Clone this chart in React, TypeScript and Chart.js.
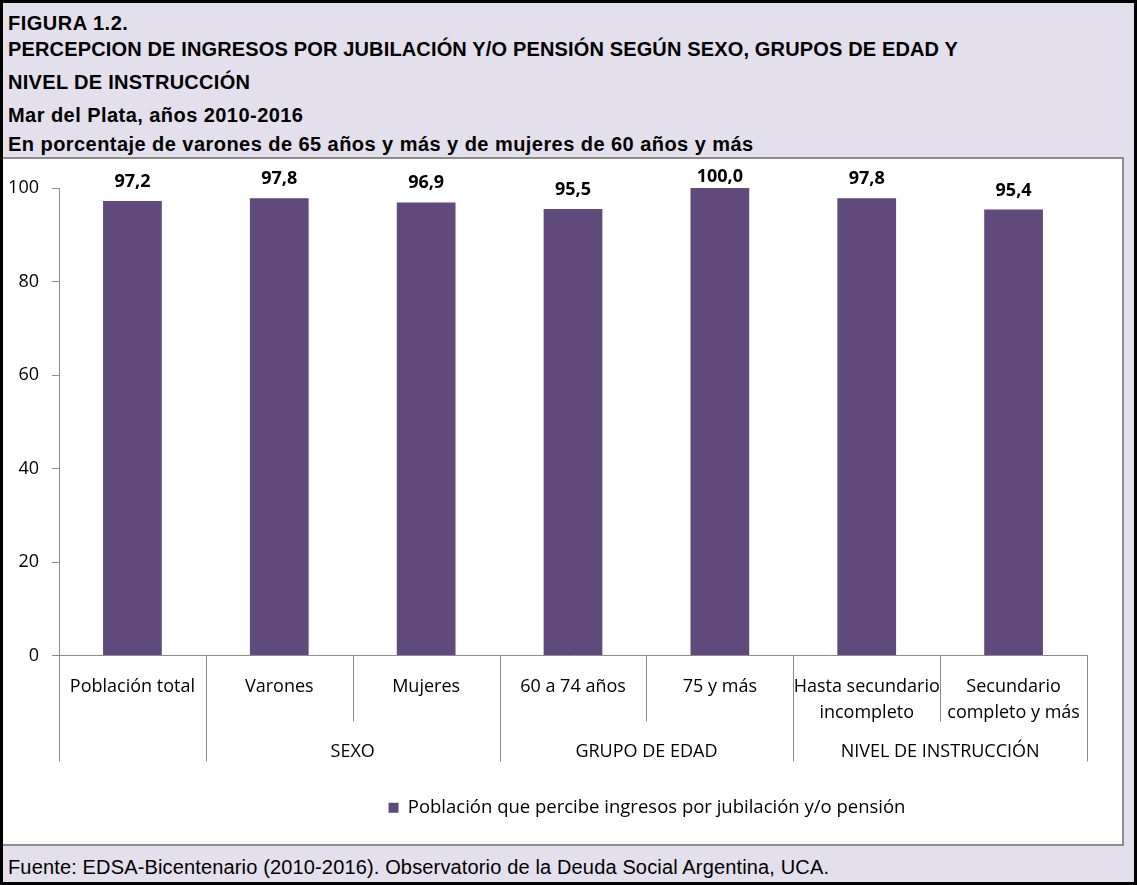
import React, { useEffect, useRef } from "react";
import { Chart, registerables } from "chart.js";

Chart.register(...registerables);

const categories: (string | string[])[] = [
  "Población total",
  "Varones",
  "Mujeres",
  "60 a 74 años",
  "75 y más",
  ["Hasta secundario", "incompleto"],
  ["Secundario", "completo y más"],
];
const values = [97.2, 97.8, 96.9, 95.5, 100.0, 97.8, 95.4];
const groupLabels = ["", "SEXO", "GRUPO DE EDAD", "NIVEL DE INSTRUCCIÓN"];
const groupSpans = [1, 2, 2, 2];
const yTickValues = [0, 20, 40, 60, 80, 100];
const seriesLabel = "Población que percibe ingresos por jubilación y/o pensión";
const titleLines = [
  "FIGURA 1.2.",
  "PERCEPCION DE INGRESOS POR JUBILACIÓN Y/O PENSIÓN SEGÚN SEXO, GRUPOS DE EDAD Y",
  "NIVEL DE INSTRUCCIÓN",
  "Mar del Plata, años 2010-2016",
  "En porcentaje de varones de 65 años y más y de mujeres de 60 años y más",
];
const sourceNote =
  "Fuente: EDSA-Bicentenario (2010-2016). Observatorio de la Deuda Social Argentina, UCA.";

// layout / style constants
const TITLE_TOPS = [13, 39, 72, 105, 134];
const TITLE_SPACING = ["0.5px", "0.15px", "0.3px", "0.45px", "0.45px"];
const BAR_COLOR = "#604A7B";
const AXIS_COLOR = "#8C8C8C";
const CAL = "'Open Sans', sans-serif";
const LEGEND_SHIFT = 102;

const groupPlugin = {
  id: "groupPlugin",
  afterLayout(chart: any) {
    if (chart.legend) {
      chart.legend.left += LEGEND_SHIFT;
      chart.legend.right += LEGEND_SHIFT;
    }
  },
  afterDraw(chart: any) {
    const xs = chart.scales.x;
    const ctx = chart.ctx;
    const n = categories.length;
    const half = (xs.getPixelForValue(1) - xs.getPixelForValue(0)) / 2;
    const groupStarts: number[] = [];
    let acc = 0;
    for (const s of groupSpans) {
      groupStarts.push(acc);
      acc += s;
    }
    const isGroupBoundary = (i: number) => i === n || groupStarts.includes(i);
    ctx.save();
    ctx.strokeStyle = AXIS_COLOR;
    ctx.lineWidth = 1;
    for (let i = 0; i <= n; i++) {
      const bx =
        i < n ? xs.getPixelForValue(i) - half : xs.getPixelForValue(n - 1) + half;
      const len = isGroupBoundary(i) ? 106 : 66;
      const px = Math.round(bx) + 0.5;
      ctx.beginPath();
      ctx.moveTo(px, xs.top);
      ctx.lineTo(px, xs.top + len);
      ctx.stroke();
    }
    ctx.fillStyle = "#000";
    ctx.font = `18px ${CAL}`;
    ctx.textAlign = "center";
    ctx.textBaseline = "middle";
    groupLabels.forEach((lab, g) => {
      if (!lab) return;
      const s = groupStarts[g];
      const e = s + groupSpans[g] - 1;
      const cx = (xs.getPixelForValue(s) + xs.getPixelForValue(e)) / 2;
      ctx.fillText(lab, cx, xs.top + 96);
    });
    ctx.restore();
  },
};

const labelPlugin = {
  id: "labelPlugin",
  afterDatasetsDraw(chart: any) {
    const ctx = chart.ctx;
    const meta = chart.getDatasetMeta(0);
    ctx.save();
    ctx.fillStyle = "#000";
    ctx.font = `bold 18px ${CAL}`;
    ctx.textAlign = "center";
    ctx.textBaseline = "alphabetic";
    meta.data.forEach((bar: any, i: number) => {
      const y = Math.max(bar.y - 14, chart.chartArea.top - 6);
      ctx.fillText(values[i].toFixed(1).replace(".", ","), bar.x, y);
    });
    ctx.restore();
  },
};

export default function App() {
  const ref = useRef<HTMLCanvasElement>(null);
  useEffect(() => {
    if (!ref.current) return;
    const chart = new Chart(ref.current, {
      type: "bar",
      data: {
        labels: categories as any,
        datasets: [
          {
            label: seriesLabel,
            data: values,
            backgroundColor: BAR_COLOR,
            borderWidth: 0,
            barPercentage: 0.4,
            categoryPercentage: 1,
          },
        ],
      },
      options: {
        animation: false,
        responsive: false,
        devicePixelRatio: 1,
        layout: { padding: { top: 29, left: 0, right: 34, bottom: 17 } },
        plugins: {
          tooltip: { enabled: false },
          legend: {
            display: true,
            position: "bottom",
            labels: {
              boxWidth: 10,
              boxHeight: 10,
              color: "#000",
              padding: 10,
              font: { family: "'Open Sans', sans-serif", size: 18.5 },
            },
          },
        },
        scales: {
          x: {
            grid: { display: false, drawTicks: false },
            border: { display: true, color: AXIS_COLOR, width: 1 },
            ticks: {
              color: "#000",
              padding: 18,
              maxRotation: 0,
              autoSkip: false,
              font: { family: "'Open Sans', sans-serif", size: 18, lineHeight: 1.45 },
            },
            afterFit(scale: any) {
              scale.height = 133;
            },
          },
          y: {
            min: 0,
            max: 100,
            afterBuildTicks(scale: any) {
              scale.ticks = yTickValues.map((v) => ({ value: v }));
            },
            grid: {
              drawOnChartArea: false,
              drawTicks: true,
              tickLength: 7,
              color: AXIS_COLOR,
            },
            border: { display: true, color: AXIS_COLOR, width: 1 },
            ticks: {
              color: "#000",
              padding: 13,
              font: { family: "'Open Sans', sans-serif", size: 18 },
            },
            afterFit(scale: any) {
              scale.width = 56;
            },
          },
        },
      },
      plugins: [groupPlugin, labelPlugin],
    });
    return () => chart.destroy();
  }, []);

  return (
    <div
      style={{
        position: "absolute",
        left: 0,
        top: 0,
        width: 1137,
        height: 885,
        boxSizing: "border-box",
        border: "3px solid #000",
        background: "#E4DFEC",
        overflow: "hidden",
      }}
    >
      {titleLines.map((t, i) => (
        <div
          key={i}
          style={{
            position: "absolute",
            left: 5,
            top: TITLE_TOPS[i] - 3,
            fontFamily: "'Liberation Sans', Arial, sans-serif",
            fontWeight: "bold",
            fontSize: 20,
            letterSpacing: TITLE_SPACING[i],
            lineHeight: "20px",
            whiteSpace: "nowrap",
            color: "#000",
          }}
        >
          {t}
        </div>
      ))}
      <div
        style={{
          position: "absolute",
          left: 0,
          top: 154,
          width: 1121,
          height: 689,
          boxSizing: "border-box",
          borderTop: `2px solid ${AXIS_COLOR}`,
          borderRight: `2px solid ${AXIS_COLOR}`,
          borderBottom: `2px solid ${AXIS_COLOR}`,
          background: "#fff",
        }}
      >
        <canvas ref={ref} width={1118} height={685} style={{ display: "block" }} />
      </div>
      <div
        style={{
          position: "absolute",
          left: 5,
          top: 854,
          fontFamily: "'Liberation Sans', Arial, sans-serif",
          fontSize: 20,
          letterSpacing: "0.15px",
          lineHeight: "20px",
          whiteSpace: "nowrap",
          color: "#000",
        }}
      >
        {sourceNote}
      </div>
    </div>
  );
}
